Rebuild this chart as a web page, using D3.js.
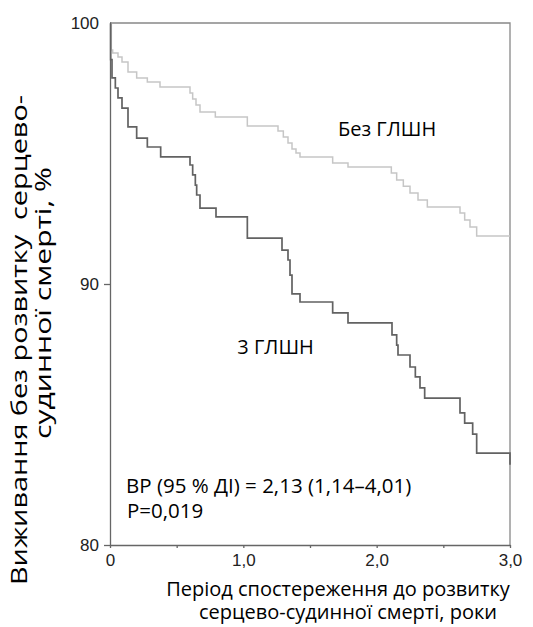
<!DOCTYPE html>
<html lang="uk">
<head>
  <meta charset="UTF-8">
  <title>Виживання без розвитку серцево-судинної смерті</title>
  <script src="https://d3js.org/d3.v7.min.js"></script>
  <style>
    body { margin: 0; background: #fff; }
    svg { display: block; font-family: "Open Sans", "Noto Sans", sans-serif; }
    .axis path, .axis line { stroke: #666; stroke-width: 1.3px; }
    .axis text { font-size: 17px; fill: #222; }
    .frame { fill: none; stroke: #888; stroke-width: 1.3px; }
    .curve { fill: none; }
  </style>
</head>
<body>
  <svg width="533" height="627"></svg>

  <script>
    // Без ГЛШН (світла крива)
    const noLvhTime = [0, 0.01, 0.02, 0.06, 0.09, 0.135, 0.20, 0.28, 0.375, 0.60, 0.62, 0.645, 0.675, 0.79, 1.03,
      1.26, 1.30, 1.335, 1.365, 1.395, 1.425, 1.67, 1.785, 2.11, 2.15, 2.20, 2.25, 2.31, 2.38, 2.625, 2.66, 2.70, 2.75, 3.0];
    const noLvhSurv = [100, 98.97, 98.85, 98.70, 98.51, 98.12, 97.89, 97.74, 97.55, 97.32, 97.09, 96.86, 96.59, 96.40, 96.05,
      95.86, 95.63, 95.40, 95.17, 95.02, 94.87, 94.64, 94.48, 94.25, 93.98, 93.75, 93.49, 93.22, 92.95, 92.72, 92.45, 92.18, 91.84, 91.84];

    // 3 ГЛШН (темна крива)
    const lvh3Time = [0, 0.005, 0.015, 0.04, 0.06, 0.09, 0.135, 0.20, 0.28, 0.38, 0.60, 0.62, 0.64, 0.65, 0.675, 0.795, 1.03,
      1.29, 1.335, 1.35, 1.365, 1.425, 1.67, 1.785, 2.115, 2.15, 2.16, 2.25, 2.29, 2.325, 2.36, 2.625, 2.66, 2.72, 2.75, 3.0];
    const lvh3Surv = [100, 98.6, 97.9, 97.51, 97.13, 96.74, 96.02, 95.59, 95.25, 94.87, 94.56, 94.18, 93.79, 93.41, 92.91, 92.57, 91.76,
      91.30, 90.92, 90.34, 89.62, 89.31, 88.89, 88.51, 88.05, 87.66, 87.28, 86.82, 86.44, 86.02, 85.63, 85.06, 84.67, 84.25, 83.52, 83.07];

    const xTicks = [0, 0.5, 1, 1.5, 2, 2.5, 3];
    const xTickLabels = ["0", "", "1,0", "", "2,0", "", "3,0"];
    const yTicks = [80, 90, 100];

    const svg = d3.select("svg");
    const x = d3.scaleLinear().domain([0, 3]).range([110, 510]);
    const y = d3.scaleLinear().domain([80, 100]).range([545, 23]);

    // рамка (верх і праворуч)
    svg.append("path")
      .attr("class", "frame")
      .attr("d", `M${x(0)},${y(100)}H${x(3)}V${y(80)}`);

    // осі
    svg.append("g")
      .attr("class", "axis")
      .attr("transform", `translate(${x(0)},0)`)
      .call(d3.axisLeft(y).tickValues(yTicks).tickSize(6).tickPadding(5).tickSizeOuter(0).tickFormat(d3.format("d")))
      .call(g => g.selectAll(".tick").filter(d => d === 100).select("line").remove());

    svg.append("g")
      .attr("class", "axis")
      .attr("transform", `translate(0,${y(80)})`)
      .call(d3.axisBottom(x).tickValues(xTicks).tickSize(3).tickPadding(6).tickSizeOuter(0)
        .tickFormat((d, i) => xTickLabels[i]));

    // криві виживання
    const line = d3.line()
      .x(d => x(d[0]))
      .y(d => y(d[1]))
      .curve(d3.curveStepAfter);

    svg.append("path")
      .attr("class", "curve")
      .attr("d", line(d3.zip(noLvhTime, noLvhSurv)))
      .attr("stroke", "#c6c6c6")
      .attr("stroke-width", 1.5);

    svg.append("path")
      .attr("class", "curve")
      .attr("d", line(d3.zip(lvh3Time, lvh3Surv)))
      .attr("stroke", "#626262")
      .attr("stroke-width", 1.7);

    // підписи кривих
    svg.append("text").attr("x", x(1.71)).attr("y", y(95.66)).attr("font-size", 20).text("Без ГЛШН");
    svg.append("text").attr("x", x(0.955)).attr("y", y(87.32)).attr("font-size", 20).text("3 ГЛШН");

    // статистика
    svg.append("text").attr("x", 126).attr("y", 493).attr("font-size", 20.5).text("ВР (95 % ДІ) = 2,13 (1,14–4,01)");
    svg.append("text").attr("x", 127).attr("y", 518).attr("font-size", 20.5).text("P=0,019");

    // назва осі X
    svg.append("text").attr("x", 338).attr("y", 596).attr("text-anchor", "middle").attr("font-size", 20)
      .text("Період спостереження до розвитку");
    svg.append("text").attr("x", 348).attr("y", 619).attr("text-anchor", "middle").attr("font-size", 20)
      .text("серцево-судинної смерті, роки");

    // назва осі Y
    svg.append("text")
      .attr("transform", "translate(27,340) rotate(-90)")
      .attr("text-anchor", "middle").attr("font-size", 22)
      .attr("textLength", 490).attr("lengthAdjust", "spacingAndGlyphs")
      .attr("xml:space", "preserve")
      .text("Виживання без розвитку  серцево-");
    svg.append("text")
      .attr("transform", "translate(51,303) rotate(-90)")
      .attr("text-anchor", "middle").attr("font-size", 22)
      .attr("textLength", 272).attr("lengthAdjust", "spacingAndGlyphs")
      .text("судинної смерті, %");
  </script>
</body>
</html>
